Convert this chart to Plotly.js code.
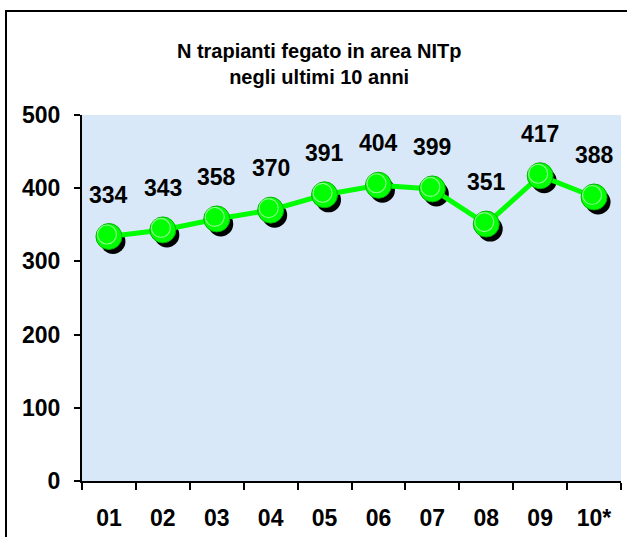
<!DOCTYPE html>
<html>
<head>
<meta charset="utf-8">
<script src="https://cdn.plot.ly/plotly-3.0.1.min.js"></script>
<style>
html,body{margin:0;padding:0;background:#fff;overflow:hidden;}
#wrap{position:relative;width:627px;height:537px;}
#chart{position:absolute;left:0;top:0;width:627px;height:537px;}
#frame{position:absolute;left:5px;top:10px;width:700px;height:700px;border:2px solid #000;pointer-events:none;}
</style>
</head>
<body>
<div id="wrap"><div id="chart"></div><div id="frame"></div></div>
<script>
const years = ["01","02","03","04","05","06","07","08","09","10*"];
const transplants = [334,343,358,370,391,404,399,351,417,388];
const titleText = "N trapianti fegato in area NITp<br>negli ultimi 10 anni";
const yTicks = [0,100,200,300,400,500];

const FONT = "Arial, 'Liberation Sans', sans-serif";
// shadow offsets expressed in axis units (approx. 4px right, 5px down)
const dx = 4/54, dy = 5*500/366;
const bare = {showticklabels:false, showline:false, showgrid:false, zeroline:false, ticks:"", fixedrange:true};

// base axes (x,y) carry the shadow; x2/y2 are the visible axes with the line
const shadow = {
  x: years, y: transplants, xaxis: "x", yaxis: "y",
  type: "scatter", mode: "markers", hoverinfo: "skip",
  marker: {size: 25, color: "#000000"}, showlegend: false
};
const main = {
  x: years, y: transplants, xaxis: "x2", yaxis: "y2",
  type: "scatter", mode: "lines+markers",
  line: {color: "#00ff00", width: 5},
  marker: {size: 26, color: "#00ff00", line: {color: "#00b400", width: 1}},
  showlegend: false
};
const highlight = {
  x: years, y: transplants, xaxis: "x3", yaxis: "y3",
  type: "scatter", mode: "markers", hoverinfo: "skip",
  marker: {size: 19, color: "rgba(0,0,0,0)", line: {color: "rgba(230,255,230,0.6)", width: 1.2}},
  showlegend: false
};

const annotations = years.map((c, i) => ({
  x: i, y: transplants[i], xref: "x2", yref: "y2", text: String(transplants[i]),
  showarrow: false, yshift: 42, yanchor: "middle",
  font: {family: FONT, size: 23, color: "#000", weight: "bold"}
}));

const tickFont = {family: FONT, size: 23, color: "#000", weight: "bold"};
const layout = {
  width: 627, height: 537,
  margin: {l: 82, r: 6, t: 115, b: 56},
  paper_bgcolor: "#ffffff",
  plot_bgcolor: "#d8e8f9",
  title: {text: titleText, x: 0.509, xref: "container", y: 1 - 58/537, yref: "container",
          xanchor: "center", yanchor: "middle",
          font: {family: FONT, size: 20, color: "#000", weight: "bold"}},
  xaxis: Object.assign({type: "category", range: [-0.5 - dx, 9.5 - dx]}, bare),
  yaxis: Object.assign({range: [dy, 500 + dy]}, bare),
  xaxis2: {type: "category", overlaying: "x", range: [-0.5, 9.5], tickson: "boundaries",
          ticks: "outside", ticklen: 7, tickwidth: 2, tickcolor: "#000",
          showline: true, linecolor: "#000", linewidth: 2, showgrid: false, zeroline: false,
          ticklabelstandoff: 15, fixedrange: true, tickfont: tickFont},
  yaxis2: {overlaying: "y", range: [0, 500], tickvals: yTicks, ticktext: yTicks.map(String),
          ticks: "outside", ticklen: 6, tickwidth: 2, tickcolor: "#000",
          showline: true, linecolor: "#000", linewidth: 2, showgrid: false, zeroline: false,
          ticklabelstandoff: 9, fixedrange: true, tickfont: tickFont},
  xaxis3: Object.assign({type: "category", overlaying: "x", range: [-0.5 + 2/54, 9.5 + 2/54]}, bare),
  yaxis3: Object.assign({overlaying: "y", range: [-2*500/366, 500 - 2*500/366]}, bare),
  annotations: annotations
};

Plotly.newPlot("chart", [shadow, main, highlight], layout, {displayModeBar: false, staticPlot: true});
</script>
</body>
</html>
